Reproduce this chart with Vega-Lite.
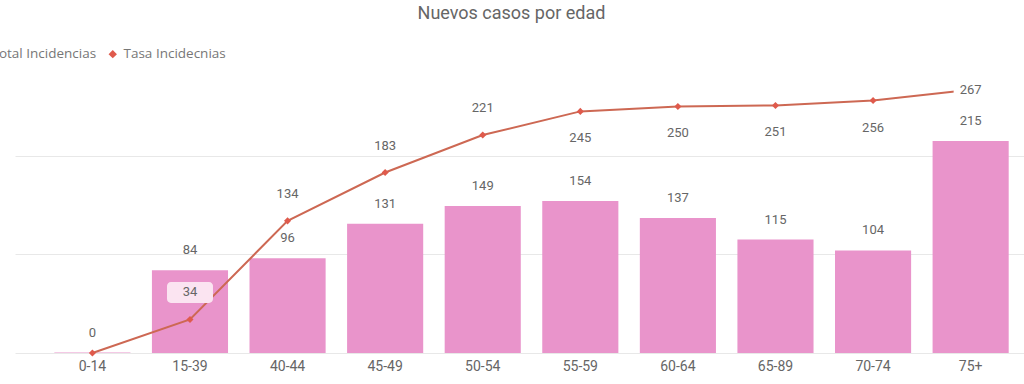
{
  "$schema": "https://vega.github.io/schema/vega-lite/v6.json",
  "autosize": "none",
  "width": 1009,
  "height": 286,
  "padding": {"left": 15, "top": 67, "right": 0, "bottom": 31},
  "background": "white",
  "config": {"view": {"stroke": null}},
  "title": {"text": "Nuevos casos por edad", "anchor": "middle", "frame": "group", "font": "Roboto", "fontSize": 18, "fontWeight": "normal", "color": "#666666", "dx": -8, "dy": -20},
  "data": {"values": [
    {"edad": "0-14", "total": 0.4, "tasa": 0},
    {"edad": "15-39", "total": 84, "tasa": 34},
    {"edad": "40-44", "total": 96, "tasa": 134},
    {"edad": "45-49", "total": 131, "tasa": 183},
    {"edad": "50-54", "total": 149, "tasa": 221},
    {"edad": "55-59", "total": 154, "tasa": 245},
    {"edad": "60-64", "total": 137, "tasa": 250},
    {"edad": "65-89", "total": 115, "tasa": 251},
    {"edad": "70-74", "total": 104, "tasa": 256},
    {"edad": "75+", "total": 215, "tasa": 267}
  ]},
  "encoding": {
    "x": {"field": "edad", "type": "nominal", "sort": null,
      "scale": {"paddingInner": 0.22, "paddingOuter": 0.28, "align": 0.72},
      "axis": {"title": null, "labelAngle": 0, "domain": false, "ticks": false, "labelFont": "Roboto", "labelFontSize": 14, "labelColor": "#666666", "labelPadding": 6}}
  },
  "layer": [
    {
      "mark": {"type": "bar"},
      "encoding": {
        "y": {"field": "total", "type": "quantitative", "scale": {"domain": [0, 290], "nice": false},
          "axis": {"title": null, "values": [0, 100, 200], "labels": false, "ticks": false, "domain": false, "grid": true, "gridColor": "#E8E8E8", "gridWidth": 1}},
        "color": {"datum": "Total Incidencias", "type": "nominal",
          "scale": {"domain": ["Total Incidencias", "Tasa Incidecnias"], "range": ["#E994CB", "#DF5A4C"]},
          "legend": {"title": null, "orient": "none", "direction": "horizontal", "legendX": -41, "legendY": -20, "symbolType": "diamond", "symbolSize": 70, "symbolStrokeWidth": 0, "labelFont": "Open Sans", "labelFontSize": 13.5, "labelColor": "#777777", "labelOffset": 4, "columnPadding": 9}}
      }
    },
    {
      "mark": {"type": "text", "baseline": "middle", "dy": -20, "font": "Roboto", "fontSize": 13, "color": "#666666"},
      "encoding": {
        "y": {"field": "total", "type": "quantitative"},
        "text": {"field": "total", "type": "quantitative", "format": ".0f"}
      }
    },
    {
      "mark": {"type": "line", "color": "#CD6853", "strokeWidth": 2},
      "encoding": {"y": {"field": "tasa", "type": "quantitative"}}
    },
    {
      "mark": {"type": "point", "shape": "diamond", "filled": true, "size": 50, "opacity": 1},
      "encoding": {
        "y": {"field": "tasa", "type": "quantitative"},
        "color": {"datum": "Tasa Incidecnias", "type": "nominal"}
      }
    },
    {
      "transform": [{"filter": {"field": "edad", "equal": "15-39"}}],
      "mark": {"type": "point", "shape": "M-0.83,-0.457H0.83A0.17,0.17 0 0 1 1,-0.287V0.287A0.17,0.17 0 0 1 0.83,0.457H-0.83A0.17,0.17 0 0 1 -1,0.287V-0.287A0.17,0.17 0 0 1 -0.83,-0.457Z", "filled": true, "color": "#FBE4F1", "opacity": 1, "size": 2116, "yOffset": -27},
      "encoding": {"y": {"field": "tasa", "type": "quantitative"}}
    },
    {
      "transform": [{"filter": {"field": "edad", "equal": "75+"}}],
      "mark": {"type": "point", "shape": "M-1,-0.59H1V0.59H-1Z", "filled": true, "color": "#FFFFFF", "opacity": 1, "size": 1156},
      "encoding": {"y": {"field": "tasa", "type": "quantitative"}}
    },
    {
      "transform": [{"filter": {"field": "edad", "oneOf": ["15-39", "40-44", "45-49", "50-54"]}}],
      "mark": {"type": "text", "baseline": "middle", "dy": -27, "font": "Roboto", "fontSize": 13, "color": "#666666"},
      "encoding": {
        "y": {"field": "tasa", "type": "quantitative"},
        "text": {"field": "tasa", "type": "quantitative", "format": ".0f"}
      }
    },
    {
      "transform": [{"filter": {"field": "edad", "oneOf": ["55-59", "60-64", "65-89", "70-74"]}}],
      "mark": {"type": "text", "baseline": "middle", "dy": 27, "font": "Roboto", "fontSize": 13, "color": "#666666"},
      "encoding": {
        "y": {"field": "tasa", "type": "quantitative"},
        "text": {"field": "tasa", "type": "quantitative", "format": ".0f"}
      }
    },
    {
      "transform": [{"filter": {"field": "edad", "equal": "75+"}}],
      "mark": {"type": "text", "baseline": "middle", "font": "Roboto", "fontSize": 13, "color": "#666666"},
      "encoding": {
        "y": {"field": "tasa", "type": "quantitative"},
        "text": {"field": "tasa", "type": "quantitative", "format": ".0f"}
      }
    }
  ]
}
